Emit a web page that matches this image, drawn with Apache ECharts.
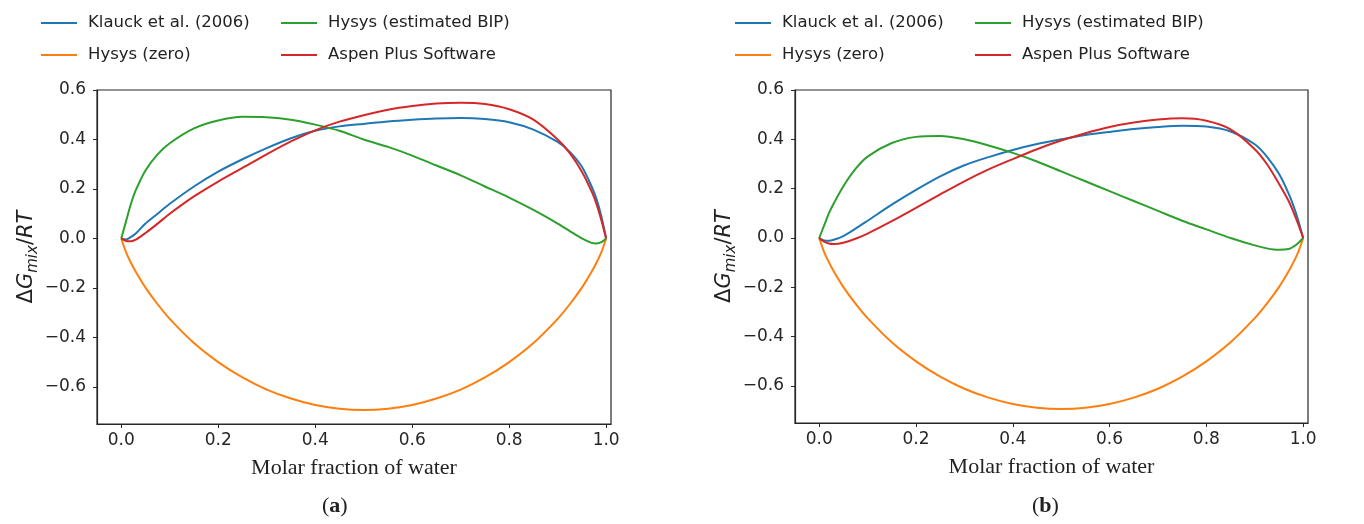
<!DOCTYPE html>
<html><head><meta charset="utf-8">
<script src="https://cdn.jsdelivr.net/npm/echarts@6/dist/echarts.min.js"></script>
<style>html,body{margin:0;padding:0;background:#fff}#c{width:1364px;height:524px}</style>
</head><body><div id="c"></div>
<script>
// Molar fraction of water (x positions where curves were read)
const xs = [0, 0.01, 0.02, 0.03, 0.05, 0.075, 0.1, 0.15, 0.2, 0.25, 0.3, 0.35, 0.4, 0.45, 0.5, 0.55, 0.6, 0.65, 0.7, 0.75, 0.8, 0.85, 0.9, 0.925, 0.95, 0.97, 0.98, 0.99, 1.0];

// Panel (a)
const klauckA = [0, -0.004, 0.006, 0.02, 0.06, 0.10, 0.14, 0.21, 0.27, 0.32, 0.365, 0.405, 0.435, 0.453, 0.463, 0.473, 0.48, 0.485, 0.487, 0.483, 0.47, 0.44, 0.39, 0.35, 0.29, 0.21, 0.16, 0.09, 0];
const hysysZeroA = [0, -0.056, -0.098, -0.135, -0.199, -0.266, -0.325, -0.423, -0.500, -0.562, -0.611, -0.647, -0.673, -0.688, -0.693, -0.688, -0.673, -0.647, -0.611, -0.562, -0.500, -0.423, -0.325, -0.266, -0.199, -0.135, -0.098, -0.056, 0];
const hysysBipA = [0, 0.07, 0.14, 0.195, 0.275, 0.34, 0.385, 0.445, 0.477, 0.492, 0.49, 0.48, 0.46, 0.435, 0.40, 0.37, 0.335, 0.295, 0.255, 0.21, 0.165, 0.115, 0.06, 0.03, 0.0, -0.018, -0.02, -0.015, 0];
const aspenA = [0, -0.01, -0.011, -0.005, 0.022, 0.06, 0.10, 0.17, 0.23, 0.285, 0.34, 0.392, 0.437, 0.472, 0.498, 0.52, 0.535, 0.545, 0.548, 0.543, 0.522, 0.48, 0.40, 0.345, 0.27, 0.19, 0.14, 0.075, 0];

// Panel (b)
const klauckB = [0, -0.01, -0.011, -0.007, 0.008, 0.038, 0.07, 0.135, 0.195, 0.25, 0.295, 0.328, 0.357, 0.381, 0.40, 0.418, 0.43, 0.442, 0.45, 0.455, 0.452, 0.432, 0.38, 0.33, 0.26, 0.18, 0.13, 0.07, 0];
const hysysZeroB = [0, -0.056, -0.098, -0.135, -0.199, -0.266, -0.325, -0.423, -0.500, -0.562, -0.611, -0.647, -0.673, -0.688, -0.693, -0.688, -0.673, -0.647, -0.611, -0.562, -0.500, -0.423, -0.325, -0.266, -0.199, -0.135, -0.098, -0.056, 0];
const hysysBipB = [0, 0.05, 0.10, 0.14, 0.21, 0.28, 0.33, 0.385, 0.41, 0.414, 0.40, 0.375, 0.345, 0.31, 0.27, 0.23, 0.19, 0.15, 0.11, 0.07, 0.035, 0.0, -0.03, -0.042, -0.048, -0.045, -0.035, -0.02, 0];
const aspenB = [0, -0.015, -0.022, -0.024, -0.019, -0.003, 0.018, 0.068, 0.122, 0.177, 0.23, 0.278, 0.32, 0.36, 0.395, 0.425, 0.45, 0.468, 0.48, 0.485, 0.475, 0.44, 0.36, 0.30, 0.22, 0.15, 0.105, 0.055, 0];

const seriesNames = ['Klauck et al. (2006)', 'Hysys (zero)', 'Hysys (estimated BIP)', 'Aspen Plus Software'];
const colors = ['#1f77b4', '#ff7f0e', '#2ca02c', '#d62728'];
const yTicks = [-0.6, -0.4, -0.2, 0.0, 0.2, 0.4, 0.6];
const xTicks = [0.0, 0.2, 0.4, 0.6, 0.8, 1.0];
const xTitle = 'Molar fraction of water';
const panelLabels = ['a', 'b'];

const panels = [[klauckA, hysysZeroA, hysysBipA, aspenA], [klauckB, hysysZeroB, hysysBipB, aspenB]];
const fmt = v => (v < 0 ? '\u2212' : '') + Math.abs(v).toFixed(1);

const grids = [
  {left: 97, top: 90, width: 514, height: 334},
  {left: 795, top: 90, width: 513, height: 333}
];
const axisColor = '#262626';
const tickFont = {fontFamily: 'DejaVu Sans', fontSize: 17, color: '#262626'};

const xAxes = grids.map((g, i) => ({
  type: 'value', gridIndex: i, min: -0.05, max: 1.01,
  name: xTitle, nameLocation: 'middle', nameGap: 33,
  nameTextStyle: {fontFamily: 'Liberation Serif', fontSize: 22, color: '#222'},
  axisLine: {show: true, onZero: false, lineStyle: {color: axisColor, width: 1.2}},
  axisTick: {show: true, length: 4, inside: false, customValues: xTicks, lineStyle: {color: axisColor}},
  axisLabel: Object.assign({show: true, margin: 8, customValues: xTicks, formatter: fmt}, tickFont),
  splitLine: {show: false}
}));
const yAxes = grids.map((g, i) => ({
  type: 'value', gridIndex: i, min: -0.75, max: 0.6,
  name: '{n|\u0394}{i|G}{s|mix}{n|/}{i|RT}', nameLocation: 'middle', nameRotate: 90, nameGap: 53,
  nameTextStyle: {
    color: '#222',
    rich: {
      n: {fontFamily: 'DejaVu Sans', fontSize: 21, lineHeight: 28, color: '#222'},
      i: {fontFamily: 'DejaVu Sans', fontStyle: 'italic', fontSize: 21, lineHeight: 28, color: '#222'},
      s: {fontFamily: 'DejaVu Sans', fontStyle: 'italic', fontSize: 15, lineHeight: 28, verticalAlign: 'bottom', color: '#222'}
    }
  },
  axisLine: {show: true, onZero: false, lineStyle: {color: axisColor, width: 1.2}},
  axisTick: {show: true, length: 4, inside: false, customValues: yTicks, lineStyle: {color: axisColor}},
  axisLabel: Object.assign({show: true, margin: 11, customValues: yTicks, formatter: fmt}, tickFont),
  splitLine: {show: false}
}));

const series = [];
panels.forEach((vals, p) => {
  vals.forEach((arr, k) => {
    series.push({
      name: seriesNames[k], type: 'line', xAxisIndex: p, yAxisIndex: p,
      data: xs.map((x, j) => [x, arr[j]]),
      showSymbol: false, smooth: 0.3,
      lineStyle: {color: colors[k], width: 2}, itemStyle: {color: colors[k]},
      z: 2 + k
    });
  });
});

const legendBase = {
  orient: 'vertical', icon: 'rect', itemWidth: 36, itemHeight: 2, itemGap: 12, padding: 0,
  selectedMode: false,
  textStyle: {fontFamily: 'DejaVu Sans', fontSize: 16.5, color: '#222', lineHeight: 20, padding: [0, 0, 0, 6]}
};
const legendPos = [[41, [0, 1]], [281, [2, 3]], [735, [0, 1]], [975, [2, 3]]];
const legends = legendPos.map(([left, idx]) => Object.assign({}, legendBase, {
  left: left, top: 13, data: idx.map(i => ({name: seriesNames[i], itemStyle: {color: colors[i]}}))
}));

const graphics = panelLabels.map((lab, i) => ({
  type: 'text', left: i === 0 ? 322 : 1032, top: 495,
  style: {
    text: '({b|' + lab + '})',
    fontFamily: 'Liberation Serif', fontSize: 22, fill: '#222',
    rich: {b: {fontFamily: 'Liberation Serif', fontSize: 22, fontWeight: 'bold', fill: '#222'}}
  }
}));

const chart = echarts.init(document.getElementById('c'), null, {renderer: 'canvas'});
chart.setOption({
  animation: false,
  backgroundColor: '#fff',
  grid: grids.map(g => Object.assign({show: true, borderColor: axisColor, borderWidth: 1.2, backgroundColor: 'transparent'}, g)),
  xAxis: xAxes,
  yAxis: yAxes,
  legend: legends,
  graphic: graphics,
  series: series
});
</script>
</body></html>
